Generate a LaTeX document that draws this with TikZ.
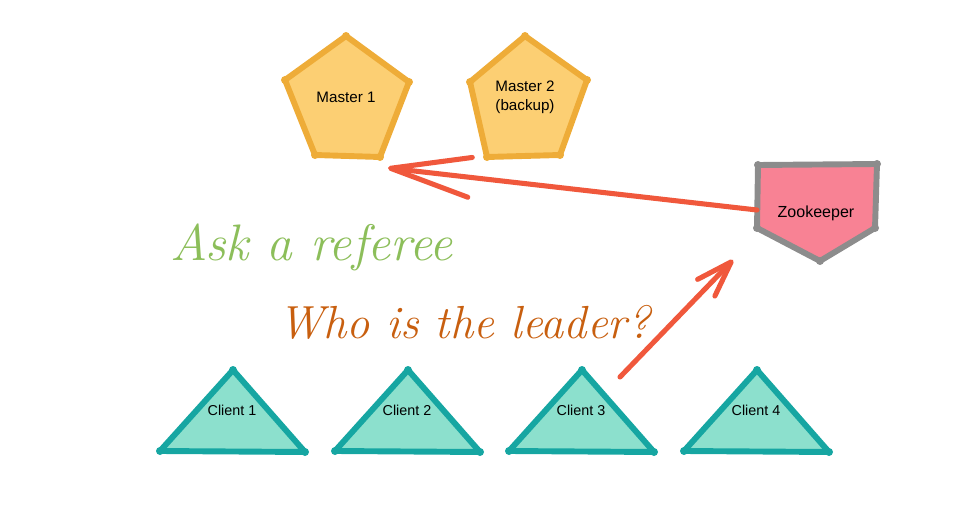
\documentclass[tikz,border=0pt]{standalone}
\usepackage{fontspec}
\usetikzlibrary{arrows.meta}
\newfontfamily\labelfont{Liberation Sans}
\definecolor{masterfill}{RGB}{252,207,115}
\definecolor{masterdraw}{RGB}{238,172,56}
\definecolor{zkfill}{RGB}{248,130,148}
\definecolor{zkdraw}{RGB}{140,140,140}
\definecolor{clientfill}{RGB}{140,224,205}
\definecolor{clientdraw}{RGB}{22,166,162}
\definecolor{arrowred}{RGB}{240,88,60}
\definecolor{refgreen}{RGB}{140,190,90}
\definecolor{leaderbrown}{RGB}{200,95,15}

\begin{document}
\begin{tikzpicture}[x=0.025cm, y=-0.025cm,
	every node/.style={font=\labelfont\fontsize{10.8}{13.5}\selectfont, align=center, inner sep=0pt},
	master/.style={draw=masterdraw, fill=masterfill, line width=4.2pt, line join=round, line cap=round},
	zk/.style={draw=zkdraw, fill=zkfill, line width=4.2pt, line join=round, line cap=round},
	client/.style={draw=clientdraw, fill=clientfill, line width=4.2pt, line join=round, line cap=round},
	ask/.style={draw=arrowred, line width=3.6pt, line cap=round},
	hand/.style={font=\itshape\fontsize{34}{40}\selectfont, anchor=base west}]
	\useasboundingbox (0,0) rectangle (954,531);

	\path (346,36) coordinate (m1a) (409,82) coordinate (m1b) (380,157) coordinate (m1c) (315,155) coordinate (m1d) (285,80) coordinate (m1e);
	\path (525,36) coordinate (m2a) (587,80) coordinate (m2b) (560,155) coordinate (m2c) (487,157) coordinate (m2d) (470,82) coordinate (m2e);
	\path (758,165) coordinate (zka) (877,164) coordinate (zkb) (875,228) coordinate (zkc) (820,261) coordinate (zkd) (757,228) coordinate (zke);
	\draw[master] (m1a) -- (m1b) -- (m1c) -- (m1d) -- (m1e) -- cycle;
	\draw[master] (m2a) -- (m2b) -- (m2c) -- (m2d) -- (m2e) -- cycle;
	\draw[zk] (zka) -- (zkb) -- (zkc) -- (zkd) -- (zke) -- cycle;
	\foreach \v in {m1a,m1b,m1c,m1d,m1e,m2a,m2b,m2c,m2d,m2e}
		\fill[masterdraw] (\v) circle (0.1cm);
	\foreach \v in {zka,zkb,zkc,zkd,zke}
		\fill[zkdraw] (\v) circle (0.1cm);

	\foreach \i/\x in {1/233,2/408,3/582,4/757} {
		\path (\x,370) coordinate (c\i a) (\x+72,452) coordinate (c\i b) (\x-73,451) coordinate (c\i c);
		\draw[client] (c\i a) -- (c\i b) -- (c\i c) -- cycle;
		\foreach \v in {a,b,c}
			\fill[clientdraw] (c\i\v) circle (0.1cm);
		\path (\x-1,410) node (client\i) {\fontsize{10.2}{12}\selectfont Client \i};
	}

	\path (346,97) node (master1) {Master 1};
	\path (525,97) node (master2) {Master 2\\(backup)};
	\path (816,213) node (zookeeper) {\fontsize{11.4}{13}\selectfont Zookeeper};

	\path (170,260) node[hand, text=refgreen, font=\itshape\fontsize{36.5}{40}\selectfont] (referee) {Ask a referee};
	\path (278,338) node[hand, text=leaderbrown, font=\itshape\fontsize{33}{40}\selectfont] (leader) {Who is the leader?};

	\coordinate (zkw) at (757,210);
	\coordinate (m1tip) at (388,168);
	\coordinate (c3from) at (620,377);
	\coordinate (zktip) at (733,260);
	\draw[ask, -{Straight Barb[length=2cm, width=1cm, round]}] (zkw) -- (m1tip);
	\draw[ask, -{Straight Barb[length=0.9cm, width=0.6cm, round]}] (c3from) -- (zktip);
\end{tikzpicture}
\end{document}
